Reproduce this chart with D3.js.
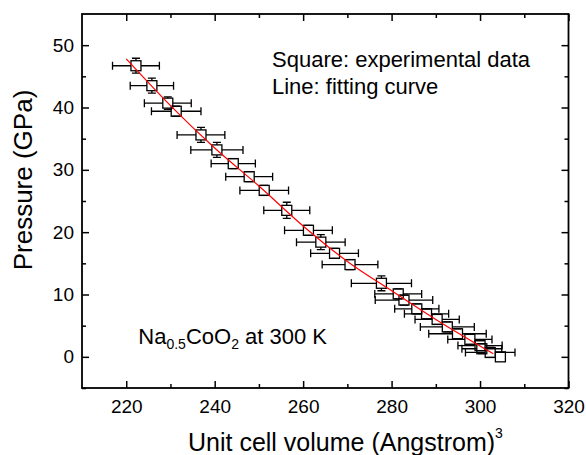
<!DOCTYPE html>
<html>
<head>
<meta charset="utf-8">
<script src="https://cdn.jsdelivr.net/npm/d3@7"></script>
<style>
  body { margin: 0; background: #fff; }
  svg text { font-family: "Liberation Sans", Arial, sans-serif; fill: #000; }
</style>
</head>
<body>
<div id="chart"></div>
<script>
// experimental points
var volume   = [222.2, 225.8, 229.4, 231.3, 236.9, 240.5, 244.2, 247.8, 251.2, 256.3, 261.2, 264.0, 267.1, 270.6,
                277.7, 281.5, 282.8, 285.7, 287.9, 290.3, 292.6, 294.9, 297.7, 300.0, 300.4, 302.3, 304.6];
var pressure = [46.7, 43.5, 40.7, 39.4, 35.6, 33.2, 31.0, 28.9, 26.7, 23.5, 20.3, 18.4, 16.6, 14.8,
                11.8, 10.1, 9.1, 7.7, 6.9, 6.0, 4.8, 3.7, 2.8, 1.8, 1.3, 0.7, 0.0];
var volErr   = [5.3, 4.9, 5.3, 5.6, 5.4, 5.9, 5.0, 5.3, 5.5, 5.2, 5.4, 5.5, 5.4, 6.3,
                6.8, 5.3, 6.5, 5.0, 5.0, 5.0, 6.1, 6.5, 5.0, 5.0, 4.5, 5.6, 0];
var presErr  = [1.2, 1.2, 1.0, 0.8, 1.2, 1.2, 0.8, 0.8, 0.8, 1.3, 0.8, 1.2, 0.8, 0.8,
                1.2, 0.8, 0.8, 0.8, 0.8, 0.8, 0.8, 0.8, 0.8, 0.8, 0.8, 0.8, 0];

// fitting curve
var fitVolume   = [220.0, 230, 240, 250, 260, 270, 280, 290, 303.0];
var fitPressure = [47.8, 40.3, 33.5, 27.4, 21.0, 15.3, 10.6, 6.0, 0.5];

var xMajor = [220, 240, 260, 280, 300, 320];
var xMinor = [230, 250, 270, 290, 310];
var yMajor = [0, 10, 20, 30, 40, 50];
var yMinor = [-5, 5, 15, 25, 35, 45];

var chartW = 586, chartH = 455;
var plotL = 82, plotR = 568.5, plotT = 14, plotB = 388;

var svg = d3.select("#chart").append("svg")
    .attr("width", chartW)
    .attr("height", chartH);

var x = d3.scaleLinear().domain([210, 320]).range([plotL, plotR]);
var y = d3.scaleLinear().domain([-5, 55]).range([plotB, plotT]);

var points = volume.map(function(v, i) {
  return { v: v, p: pressure[i], dv: volErr[i], dp: presErr[i] };
});
var fit = fitVolume.map(function(v, i) { return { v: v, p: fitPressure[i] }; });

// axes: major + minor, ticks inward on all four sides
function styleAxis(g) {
  g.select(".domain").remove();
  g.selectAll(".tick line").attr("stroke", "#000").attr("stroke-width", 1.5);
  g.selectAll(".tick text").style("font-size", "19px");
}

svg.append("g")
  .attr("transform", "translate(0," + plotB + ")")
  .call(d3.axisBottom(x).tickValues(xMajor).tickSizeInner(-7).tickSizeOuter(0).tickPadding(12).tickFormat(d3.format("d")))
  .call(styleAxis);
svg.append("g")
  .attr("transform", "translate(0," + plotB + ")")
  .call(d3.axisBottom(x).tickValues(xMinor).tickSize(-4).tickFormat(""))
  .call(styleAxis);
svg.append("g")
  .attr("transform", "translate(0," + plotT + ")")
  .call(d3.axisTop(x).tickValues(xMajor).tickSize(-7).tickFormat(""))
  .call(styleAxis);
svg.append("g")
  .attr("transform", "translate(0," + plotT + ")")
  .call(d3.axisTop(x).tickValues(xMinor).tickSize(-4).tickFormat(""))
  .call(styleAxis);

svg.append("g")
  .attr("transform", "translate(" + plotL + ",0)")
  .call(d3.axisLeft(y).tickValues(yMajor).tickSizeInner(-7).tickSizeOuter(0).tickPadding(8).tickFormat(d3.format("d")))
  .call(styleAxis);
svg.append("g")
  .attr("transform", "translate(" + plotL + ",0)")
  .call(d3.axisLeft(y).tickValues(yMinor).tickSize(-4).tickFormat(""))
  .call(styleAxis);
svg.append("g")
  .attr("transform", "translate(" + plotR + ",0)")
  .call(d3.axisRight(y).tickValues(yMajor).tickSize(-7).tickFormat(""))
  .call(styleAxis);
svg.append("g")
  .attr("transform", "translate(" + plotR + ",0)")
  .call(d3.axisRight(y).tickValues(yMinor).tickSize(-4).tickFormat(""))
  .call(styleAxis);

// frame
svg.append("rect")
  .attr("x", plotL).attr("y", plotT)
  .attr("width", plotR - plotL).attr("height", plotB - plotT)
  .attr("fill", "none").attr("stroke", "#000").attr("stroke-width", 1.8);

// error bars + squares
var half = 5; // half side of square marker
var cap = 4;
var pts = svg.append("g").selectAll("g").data(points).enter().append("g");

pts.filter(function(d) { return d.dv > 0; }).each(function(d) {
  var g = d3.select(this);
  var cx = x(d.v), cy = y(d.p);
  var x0 = x(d.v - d.dv), x1 = x(d.v + d.dv);
  g.append("path")
    .attr("d", "M" + x0 + "," + cy + "H" + (cx - half) + "M" + (cx + half) + "," + cy + "H" + x1 +
               "M" + x0 + "," + (cy - cap) + "V" + (cy + cap) +
               "M" + x1 + "," + (cy - cap) + "V" + (cy + cap))
    .attr("fill", "none").attr("stroke", "#000").attr("stroke-width", 1.3);
});
pts.filter(function(d) { return d.dp > 0; }).each(function(d) {
  var g = d3.select(this);
  var cx = x(d.v), cy = y(d.p);
  var y0 = y(d.p + d.dp), y1 = y(d.p - d.dp);
  var s = "M" + (cx - cap) + "," + y0 + "H" + (cx + cap) + "M" + (cx - cap) + "," + y1 + "H" + (cx + cap);
  if (y1 - cy > half) s += "M" + cx + "," + y0 + "V" + (cy - half) + "M" + cx + "," + (cy + half) + "V" + y1;
  g.append("path").attr("d", s)
    .attr("fill", "none").attr("stroke", "#000").attr("stroke-width", 1.3);
});
pts.append("rect")
  .attr("x", function(d) { return x(d.v) - half; })
  .attr("y", function(d) { return y(d.p) - half; })
  .attr("width", half * 2).attr("height", half * 2)
  .attr("fill", "none").attr("stroke", "#000").attr("stroke-width", 1.3);

// fitting curve
var line = d3.line()
  .x(function(d) { return x(d.v); })
  .y(function(d) { return y(d.p); })
  .curve(d3.curveMonotoneX);
svg.append("path")
  .datum(fit)
  .attr("d", line)
  .attr("fill", "none")
  .attr("stroke", "#ff0000")
  .attr("stroke-width", 1.2);

// annotations
svg.append("text").attr("x", 272).attr("y", 67).style("font-size", "22px").text("Square: experimental data");
svg.append("text").attr("x", 272).attr("y", 94).style("font-size", "22px").text("Line: fitting curve");

var lab = svg.append("text").attr("x", 327).attr("y", 344).attr("text-anchor", "end").style("font-size", "22px");
lab.append("tspan").text("Na");
lab.append("tspan").attr("dy", 5).style("font-size", "14px").text("0.5");
lab.append("tspan").attr("dy", -5).text("CoO");
lab.append("tspan").attr("dy", 5).style("font-size", "14px").text("2");
lab.append("tspan").attr("dy", -5).text(" at 300 K");

// axis titles
var xt = svg.append("text")
  .attr("x", 188).attr("y", 451)
  .style("font-size", "25px");
xt.append("tspan").text("Unit cell volume (Angstrom)");
xt.append("tspan").attr("dy", -13).style("font-size", "14px").text("3");

svg.append("text")
  .attr("transform", "translate(32,180) rotate(-90)")
  .attr("text-anchor", "middle")
  .style("font-size", "26px")
  .text("Pressure (GPa)");
</script>
</body>
</html>
